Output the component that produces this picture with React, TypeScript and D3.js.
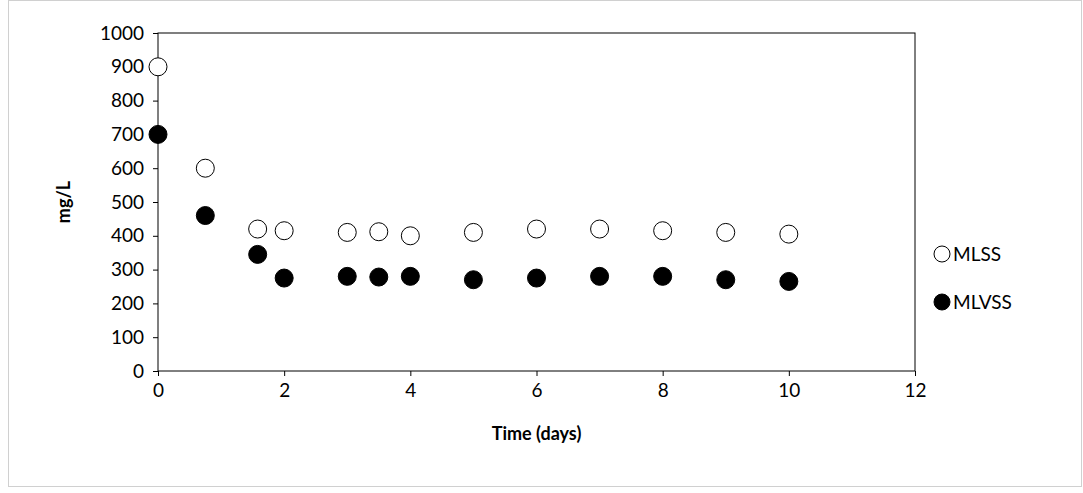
import React, { useEffect, useRef } from "react";
import * as d3 from "d3";

const days = [0, 0.75, 1.58, 2, 3, 3.5, 4, 5, 6, 7, 8, 9, 10];
const mlss = [900, 600, 420, 415, 410, 412, 400, 410, 420, 420, 415, 410, 405];
const mlvss = [700, 460, 345, 275, 280, 278, 280, 270, 275, 280, 280, 270, 265];
const xTicks = [0, 2, 4, 6, 8, 10, 12];
const yTicks = d3.range(0, 1001, 100);

const App = () => {
  const ref: any = useRef(null);

  useEffect(() => {
    const width = 1083;
    const height = 493;
    const font = "Lato, 'Liberation Sans', sans-serif";
    const fs = "19px";
    const root = d3.select(ref.current);
    root.selectAll("*").remove();
    const svg = root
      .append("svg")
      .attr("width", width)
      .attr("height", height)
      .style("position", "absolute")
      .style("left", "0px")
      .style("top", "0px")
      .style("font-family", font);

    svg
      .append("rect")
      .attr("x", 8.5)
      .attr("y", 0.5)
      .attr("width", 1073)
      .attr("height", 486)
      .attr("fill", "#fff")
      .attr("stroke", "#d0d0d0");

    const xScale = d3.scaleLinear().domain([0, 12]).range([158, 915]);
    const yScale = d3.scaleLinear().domain([0, 1000]).range([371, 33]);

    svg
      .append("rect")
      .attr("x", xScale(0))
      .attr("y", yScale(1000))
      .attr("width", xScale(12) - xScale(0))
      .attr("height", yScale(0) - yScale(1000))
      .attr("fill", "none")
      .attr("stroke", "#000");

    const xAxis = svg
      .append("g")
      .attr("transform", `translate(0,${yScale(0)})`)
      .call(d3.axisBottom(xScale).tickValues(xTicks).tickSize(5).tickPadding(8).tickFormat(d3.format("d")));
    const yAxis = svg
      .append("g")
      .attr("transform", `translate(${xScale(0)},0)`)
      .call(d3.axisLeft(yScale).tickValues(yTicks).tickSize(5).tickPadding(9).tickFormat(d3.format("d")));
    [xAxis, yAxis].forEach((g) => {
      g.attr("font-size", null).attr("font-family", null);
      g.select(".domain").remove();
      g.selectAll("line").attr("stroke", "#000");
      g.selectAll("text")
        .attr("fill", "#000")
        .style("font-family", font)
        .style("font-size", fs);
    });

    svg
      .append("text")
      .attr("x", (xScale(0) + xScale(12)) / 2)
      .attr("y", 440)
      .attr("text-anchor", "middle")
      .style("font-size", "18px")
      .style("font-weight", "bold")
      .text("Time (days)");
    svg
      .append("text")
      .attr("transform", `translate(70,${(yScale(0) + yScale(1000)) / 2}) rotate(-90)`)
      .attr("text-anchor", "middle")
      .style("font-size", "18px")
      .style("font-weight", "bold")
      .text("mg/L");

    const series = [
      { name: "MLSS", values: mlss, fill: "#fff", ly: 254 },
      { name: "MLVSS", values: mlvss, fill: "#000", ly: 302 },
    ];
    series.forEach((s) => {
      svg
        .append("g")
        .selectAll("circle")
        .data(days)
        .join("circle")
        .attr("cx", (d) => xScale(d))
        .attr("cy", (_, i) => yScale(s.values[i]))
        .attr("r", 9)
        .attr("fill", s.fill)
        .attr("stroke", "#000")
        .attr("stroke-width", 1);
      svg
        .append("circle")
        .attr("cx", 942)
        .attr("cy", s.ly)
        .attr("r", 8)
        .attr("fill", s.fill)
        .attr("stroke", "#000");
      svg
        .append("text")
        .attr("x", 953)
        .attr("y", s.ly + 7)
        .style("font-size", fs)
        .text(s.name);
    });
  }, []);

  return <div id="chart" ref={ref}></div>;
};

export default App;
